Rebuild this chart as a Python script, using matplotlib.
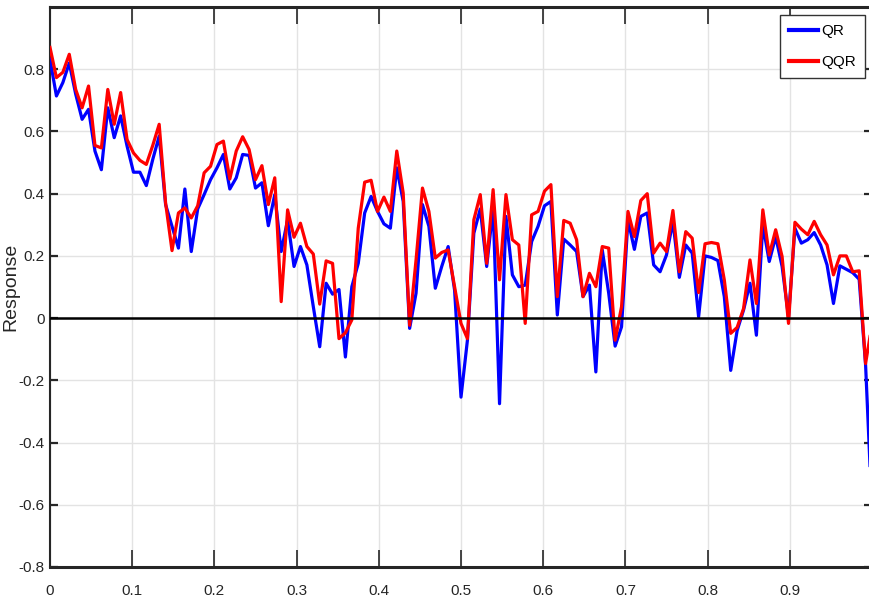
import numpy as np
from matplotlib import pyplot as plt

# quantile grid (129 points from 0 to 1)
tau = np.linspace(0, 1, 129)

# QR response (blue)
qr = [0.832, 0.714, 0.757, 0.82, 0.72, 0.639, 0.671, 0.537, 0.477, 0.676,
      0.58, 0.65, 0.553, 0.469, 0.469, 0.426, 0.51, 0.585, 0.365, 0.295,
      0.225, 0.415, 0.214, 0.351, 0.397, 0.445, 0.483, 0.526, 0.415, 0.451,
      0.526, 0.523, 0.418, 0.435, 0.297, 0.397, 0.214, 0.316, 0.166, 0.23,
      0.171, 0.037, -0.092, 0.112, 0.077, 0.092, -0.125, 0.101, 0.176, 0.338,
      0.391, 0.343, 0.303, 0.289, 0.483, 0.375, -0.033, 0.08, 0.365, 0.295,
      0.096, 0.166, 0.23, 0.09, -0.254, -0.071, 0.273, 0.351, 0.166, 0.354,
      -0.275, 0.327, 0.139, 0.101, 0.106, 0.246, 0.295, 0.361, 0.375, 0.01,
      0.254, 0.235, 0.214, 0.069, 0.106, -0.173, 0.219, 0.08, -0.09, -0.028,
      0.316, 0.221, 0.327, 0.338, 0.171, 0.149, 0.203, 0.311, 0.131, 0.235,
      0.209, 0.004, 0.2, 0.195, 0.185, 0.069, -0.168, -0.04, 0.026, 0.112,
      -0.055, 0.3, 0.182, 0.262, 0.166, 0.004, 0.289, 0.241, 0.252, 0.275,
      0.235, 0.171, 0.047, 0.168, 0.157, 0.146, 0.125, -0.15, -0.62]

# QQR response (red)
qqr = [0.87, 0.773, 0.79, 0.848, 0.735, 0.676, 0.746, 0.555, 0.547, 0.735,
       0.623, 0.725, 0.574, 0.531, 0.507, 0.494, 0.555, 0.623, 0.37, 0.217,
       0.338, 0.354, 0.322, 0.361, 0.467, 0.488, 0.558, 0.569, 0.447, 0.537,
       0.583, 0.542, 0.445, 0.49, 0.365, 0.451, 0.053, 0.348, 0.26, 0.305,
       0.23, 0.206, 0.045, 0.184, 0.176, -0.066, -0.047, -0.006, 0.289, 0.437,
       0.443, 0.343, 0.389, 0.343, 0.537, 0.402, -0.023, 0.187, 0.418, 0.343,
       0.193, 0.211, 0.219, 0.101, -0.017, -0.066, 0.316, 0.397, 0.176, 0.413,
       0.123, 0.397, 0.252, 0.235, -0.017, 0.332, 0.343, 0.408, 0.429, 0.069,
       0.314, 0.305, 0.252, 0.069, 0.144, 0.101, 0.23, 0.225, -0.071, 0.037,
       0.343, 0.262, 0.378, 0.4, 0.209, 0.241, 0.214, 0.346, 0.149, 0.278,
       0.257, 0.082, 0.239, 0.243, 0.239, 0.123, -0.049, -0.03, 0.031, 0.187,
       0.047, 0.348, 0.203, 0.284, 0.198, -0.017, 0.308, 0.286, 0.268, 0.311,
       0.268, 0.235, 0.139, 0.2, 0.2, 0.149, 0.152, -0.146, -0.02]

xticks = [0, 0.1, 0.2, 0.3, 0.4, 0.5, 0.6, 0.7, 0.8, 0.9]
yticks = [-0.8, -0.6, -0.4, -0.2, 0, 0.2, 0.4, 0.6, 0.8]

fonts = ['Liberation Sans Narrow', 'Liberation Sans', 'DejaVu Sans']
txt_col = '#262626'

fig = plt.figure(figsize=(8.69, 6.03), dpi=100)
# axes box runs a little past the right edge (cropped like the original)
ax = fig.add_axes([50/869, 1-567/603, 822/869, 560/603])

ax.plot(tau, qr, color='#0000ff', lw=2.3, label='QR', zorder=3)
ax.plot(tau, qqr, color='#ff0000', lw=2.3, label='QQR', zorder=4)
ax.axhline(0, color='black', lw=1.8, zorder=5)

ax.set_xlim(0, 1)
ax.set_ylim(-0.8, 1.0)
ax.set_xticks(xticks)
ax.set_xticklabels([f'{v:g}' for v in xticks])
ax.set_yticks(yticks)
ax.set_yticklabels([f'{v:g}' for v in yticks])

ax.grid(True, color='#e3e3e3', lw=1.0, zorder=0)
ax.set_axisbelow(True)

ax.tick_params(axis='x', direction='in', top=True, length=12, width=1.2,
               pad=12, colors=txt_col, labelsize=11)
ax.tick_params(axis='y', direction='in', right=True, length=6, width=1.6,
               pad=4, colors=txt_col, labelsize=11)
for lab in ax.get_xticklabels() + ax.get_yticklabels():
    lab.set_family(fonts)

for side in ['top', 'bottom']:
    ax.spines[side].set_linewidth(2.2)
for side in ['left', 'right']:
    ax.spines[side].set_linewidth(1.5)
for sp in ax.spines.values():
    sp.set_color(txt_col)

ax.set_ylabel('Response', fontsize=14, family=['Liberation Sans', 'DejaVu Sans'],
              color=txt_col)
ax.yaxis.set_label_coords(-0.037, 0.5)

leg = ax.legend(loc='upper right', bbox_to_anchor=(0.9915, 0.9857),
                borderaxespad=0, fancybox=False, framealpha=1,
                edgecolor='#333333', handlelength=1.9, handletextpad=0.2,
                borderpad=0.6, labelspacing=1.1,
                prop={'family': fonts, 'size': 11})
leg.get_frame().set_linewidth(1.0)
for line in leg.get_lines():
    line.set_linewidth(3.0)

fig.savefig('out.png', dpi=100)
